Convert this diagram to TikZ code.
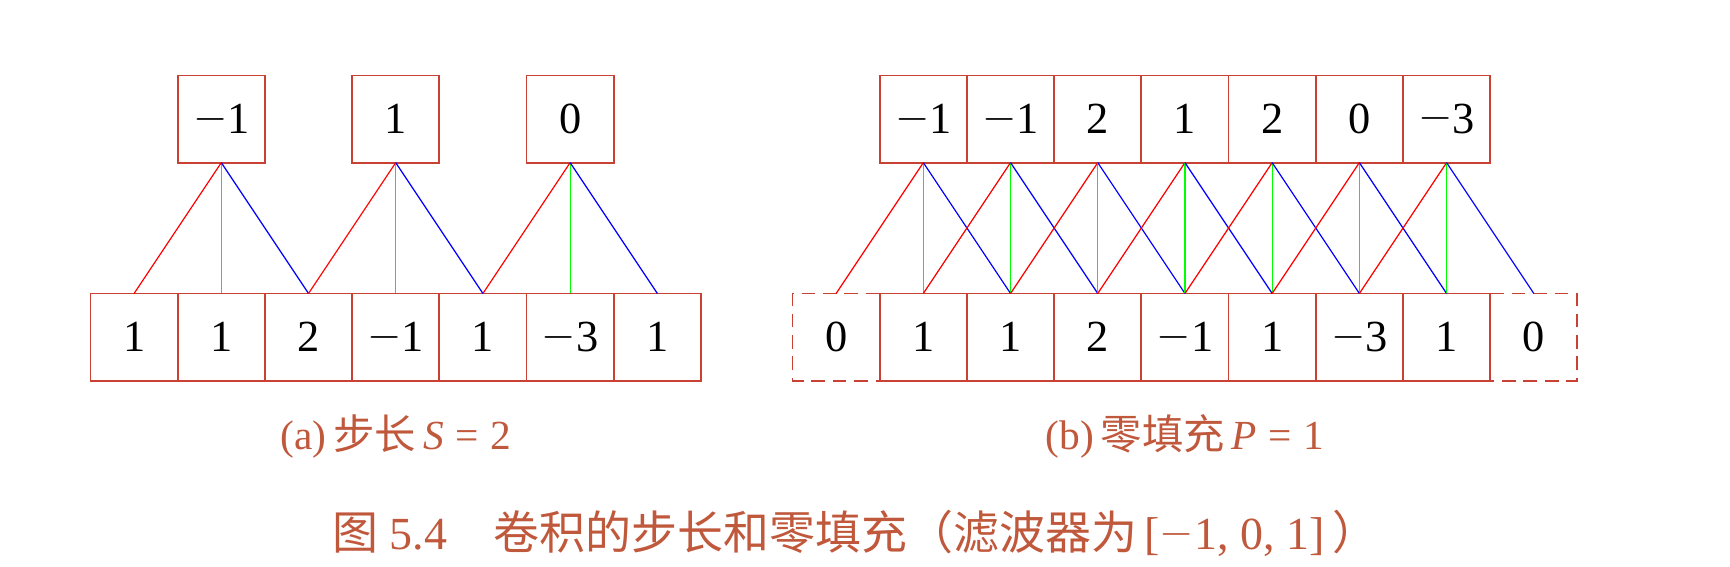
\documentclass[tikz,border=0pt]{standalone}
\usepackage{fontspec}
\setmainfont{Liberation Serif}
\newfontfamily\cjk{Noto Sans CJK SC}
\usetikzlibrary{positioning}
\definecolor{boxred}{RGB}{200,65,50}
\definecolor{captxt}{RGB}{192,88,60}
\newcommand{\mn}{\raisebox{0.08em}{$-$}}

\begin{document}
\begin{tikzpicture}[cell/.style={draw=boxred,line width=0.6pt,minimum size=1cm,inner sep=0pt,outer sep=0pt,font=\fontsize{14.5}{17}\selectfont},
  pad/.style={cell,draw=none},
  padline/.style={boxred,line width=0.6pt,dash pattern=on 4.5pt off 2.5pt},
  subcap/.style={text=captxt,font=\fontsize{13.5}{16}\selectfont},
  figcap/.style={text=captxt,font=\fontsize{15}{18}\selectfont}]
\useasboundingbox (-1.038,-2.126) rectangle (18.80,4.365);
\def\xb{8.05};
% (a) stride
\foreach \v [count=\i] in {1,1,2,\mn1,1,\mn3,1}
  \node[cell] (a\i) at (\i-0.5,0.5) {\v};
\foreach \v [count=\i] in {\mn1,1,0}
  \node[cell] (ka\i) at (2*\i-0.5,3) {\v};

\foreach \i in {1,2,3} {
  \pgfmathtruncatemacro\l{2*\i-1}
  \pgfmathtruncatemacro\m{2*\i}
  \pgfmathtruncatemacro\r{2*\i+1}
   \draw[red] (ka\i.south) -- (a\l.north);
   \draw[green] (ka\i.south) -- (a\m.north);
   \draw[blue] (ka\i.south) -- (a\r.north);
  }

% (b) zero padding
\foreach \v [count=\i] in {1,1,2,\mn1,1,\mn3,1}
  \node[cell] (b\i) at (\xb+\i+0.5,0.5) {\v};
\node[pad,left=0pt of b1] (b0) {0};
\node[pad,right=0pt of b7] (b8) {0};
\draw[padline] (b0.north east) -- (b0.north west) -- (b0.south west) -- (b0.south east);
\draw[padline] (b8.north west) -- (b8.north east) -- (b8.south east) -- (b8.south west);
\foreach \v [count=\i] in {\mn1,\mn1,2,1,2,0,\mn3}
  \node[cell] (kb\i) at (\xb+\i+0.5,3) {\v};

\foreach \i in {1,...,7} {
  \pgfmathtruncatemacro\l{\i-1}
  \pgfmathtruncatemacro\r{\i+1}
   \draw[red] (kb\i.south) -- (b\l.north);
   \draw[green] (kb\i.south) -- (b\i.north);
   \draw[blue] (kb\i.south) -- (b\r.north);
  }

\node[subcap] (capa) at (3.5,-0.635) {(a)\,{\cjk 步长}\,\textit{S}\;=\;2};
\node[subcap] (capb) at (\xb+4.5,-0.635) {(b)\,{\cjk 零填充}\,\textit{P}\;=\;1};
\node[figcap] (fig) at (8.77,-1.75) {{\cjk 图}~5.4\quad{\cjk 卷积的步长和零填充（滤波器为}\,[\mn1, 0, 1]\,{\cjk ）}};
\end{tikzpicture}
\end{document}
